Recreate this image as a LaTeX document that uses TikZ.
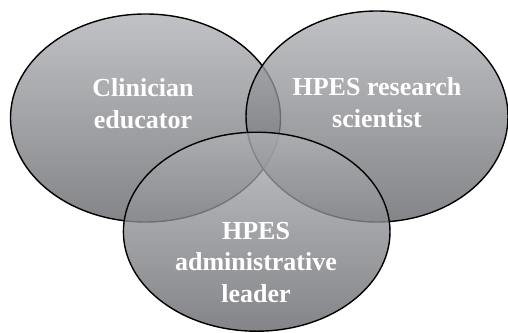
\documentclass[tikz,border=0pt]{standalone}
\usepackage{fontspec}
\setmainfont{Liberation Serif}
\begin{document}
\begin{tikzpicture}[x=1pt,y=-1pt,
  blob/.style={draw=black,line width=1.4pt,fill opacity=0.78,
    top color={rgb,255:red,176;green,177;blue,181},
    bottom color={rgb,255:red,98;green,99;blue,103}},
  lbl/.style={text=white,font=\bfseries\fontsize{26}{31.5}\selectfont,
    align=center,inner sep=0pt,anchor=base}]
\useasboundingbox[fill=white] (0,0) rectangle (508,332);
\draw[blob] (145.5,118) ellipse [x radius=135pt, y radius=104pt];
\draw[blob] (377,116.5) ellipse [x radius=131pt, y radius=105.5pt];
\draw[blob] (256.7,231.7) ellipse [x radius=133.3pt, y radius=99.5pt];
\node[lbl] (ce) at (143,128) {Clinician\\educator};
\node[lbl] (rs) at (377,127) {HPES research\\scientist};
\node[lbl] (al) at (256,302) {HPES\\administrative\\leader};
\end{tikzpicture}
\end{document}
